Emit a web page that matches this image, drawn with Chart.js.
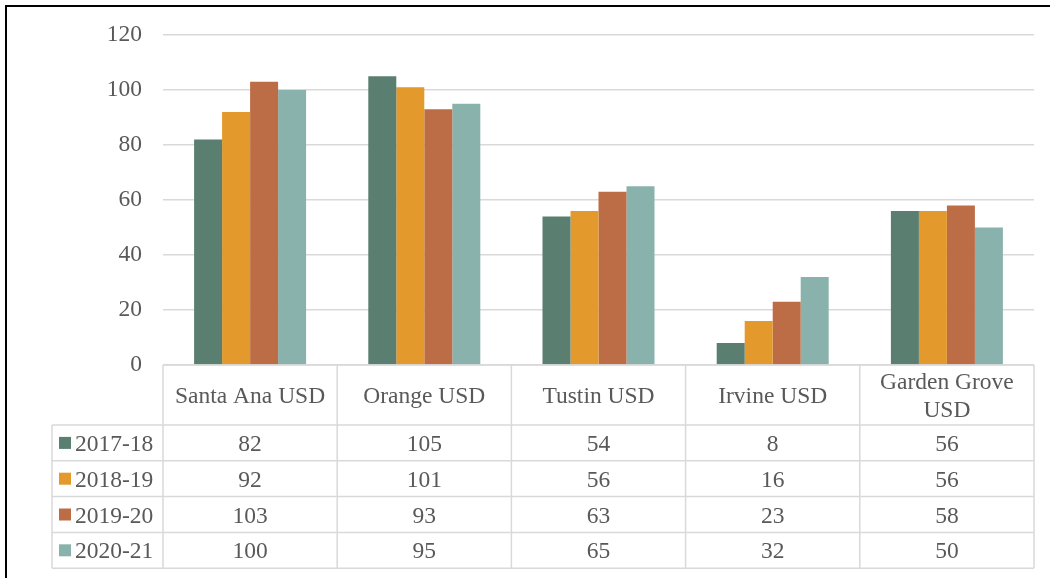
<!DOCTYPE html>
<html>
<head>
<meta charset="utf-8">
<script src="https://cdn.jsdelivr.net/npm/chart.js@4.4.1/dist/chart.umd.min.js"></script>
<style>
  html, body { margin: 0; padding: 0; background: #ffffff; }
  #wrap { width: 1050px; height: 578px; position: relative; }
</style>
</head>
<body>
<div id="wrap"><canvas id="c" width="1050" height="578"></canvas></div>
<script>
const categories = ["Santa Ana USD", "Orange USD", "Tustin USD", "Irvine USD", "Garden Grove USD"];
const seriesNames = ["2017-18", "2018-19", "2019-20", "2020-21"];
const s2017 = [82, 105, 54, 8, 56];
const s2018 = [92, 101, 56, 16, 56];
const s2019 = [103, 93, 63, 23, 58];
const s2020 = [100, 95, 65, 32, 50];
const yTicks = [0, 20, 40, 60, 80, 100, 120];

const colors = ["#5A7E6F", "#E3992B", "#BC6D46", "#8AB2AC"];
const seriesValues = [s2017, s2018, s2019, s2020];
const FONT = "'Liberation Serif', 'Times New Roman', serif";
const TEXT = "#595959";
const GRID = "#d9d9d9";
const FSIZE = 23.5;

const tablePlugin = {
  id: 'dataTable',
  afterDraw(chart) {
    const ctx = chart.ctx;
    const x = chart.scales.x;
    const area = chart.chartArea;
    const n = categories.length;
    const colW = (area.right - area.left) / n;
    const top = area.bottom;
    const headerBottom = top + 60;
    const rowH = 35.8;
    const legendLeft = 52;
    const bottom = headerBottom + rowH * seriesNames.length;

    ctx.save();
    ctx.strokeStyle = GRID;
    ctx.lineWidth = 1.5;
    ctx.beginPath();
    ctx.moveTo(area.left, top); ctx.lineTo(area.right, top);
    for (let r = 0; r <= seriesNames.length; r++) {
      const y = headerBottom + r * rowH;
      ctx.moveTo(legendLeft, y); ctx.lineTo(area.right, y);
    }
    for (let c = 0; c <= n; c++) {
      const xx = area.left + c * colW;
      ctx.moveTo(xx, top); ctx.lineTo(xx, bottom);
    }
    ctx.moveTo(legendLeft, headerBottom); ctx.lineTo(legendLeft, bottom);
    ctx.stroke();

    ctx.fillStyle = TEXT;
    ctx.font = FSIZE + "px " + FONT;
    ctx.textAlign = "center";
    ctx.textBaseline = "middle";
    categories.forEach((cat, i) => {
      const cx = x.getPixelForValue(i);
      const words = cat.split(" ");
      const lines = [];
      let cur = "";
      words.forEach(w => {
        const t = cur ? cur + " " + w : w;
        if (ctx.measureText(t).width > colW - 12 && cur) { lines.push(cur); cur = w; }
        else cur = t;
      });
      lines.push(cur);
      const lh = 28;
      const cy = (top + headerBottom) / 2 + 2;
      lines.forEach((ln, k) => {
        ctx.fillText(ln, cx, cy + (k - (lines.length - 1) / 2) * lh);
      });
    });
    seriesNames.forEach((name, r) => {
      const cy = headerBottom + r * rowH + rowH / 2;
      ctx.fillStyle = colors[r];
      ctx.fillRect(59, cy - 6, 12, 12);
      ctx.fillStyle = TEXT;
      ctx.textAlign = "left";
      ctx.fillText(name, 75, cy + 2);
      ctx.textAlign = "center";
      seriesValues[r].forEach((v, i) => {
        ctx.fillText(String(v), x.getPixelForValue(i), cy + 2);
      });
    });
    ctx.fillStyle = "#000000";
    ctx.fillRect(5, 5, 1045, 2);
    ctx.fillRect(5, 5, 2, 573);
    ctx.restore();
  }
};

new Chart(document.getElementById('c'), {
  type: 'bar',
  data: {
    labels: categories,
    datasets: seriesNames.map((name, i) => ({
      label: name,
      data: seriesValues[i],
      backgroundColor: colors[i],
      borderWidth: 0,
      barPercentage: 1.0,
      categoryPercentage: 0.643
    }))
  },
  options: {
    responsive: false,
    animation: false,
    devicePixelRatio: 1,
    layout: { padding: { left: 0, right: 16, top: 35, bottom: 213 } },
    plugins: { legend: { display: false }, tooltip: { enabled: false } },
    scales: {
      x: { display: false },
      y: {
        min: 0, max: 120,
        afterFit(scale) { scale.width = 163; },
        afterBuildTicks(scale) { scale.ticks = yTicks.map(v => ({ value: v })); },
        border: { display: false },
        grid: { color: GRID, lineWidth: 1.5, drawTicks: false },
        ticks: {
          padding: 21,
          color: TEXT,
          font: { family: FONT, size: FSIZE }
        }
      }
    }
  },
  plugins: [tablePlugin]
});
</script>
</body>
</html>
